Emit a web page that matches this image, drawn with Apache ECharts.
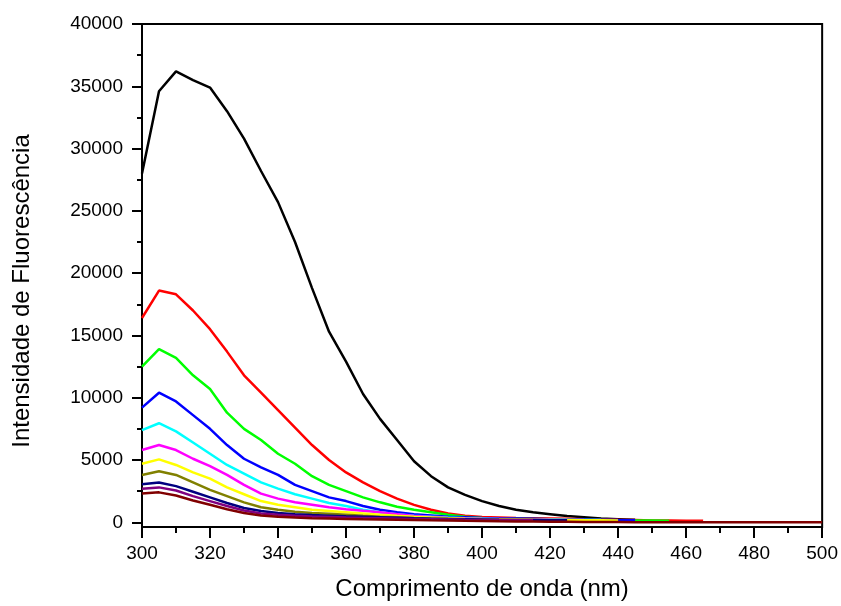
<!DOCTYPE html>
<html>
<head>
<meta charset="utf-8">
<script src="https://cdn.jsdelivr.net/npm/echarts@6/dist/echarts.min.js"></script>
<style>html,body{margin:0;padding:0;background:#fff}#c{width:841px;height:606px}</style>
</head>
<body>
<div id="c"></div>
<script>
// Wavelength grid (nm), 5 nm steps
const wavelengths = [300,305,310,315,320,325,330,335,340,345,350,355,360,365,370,375,380,385,390,395,400,405,410,415,420,425,430,435,440,445,450,455,460,465,470,475,480,485,490,495,500];

const xTicks = [300,320,340,360,380,400,420,440,460,480,500];
const yTickLabels = [0,5000,10000,15000,20000,25000,30000,35000,40000];
const yMinorTicks = [2500,7500,12500,17500,22500,27500,32500,37500];

const seriesColors = ['#000000','#ff0000','#00ff00','#0000ff','#00ffff','#ff00ff','#ffff00','#808000','#000080','#800080','#800000'];

const sBlack  = [28000,34600,36200,35500,34900,33000,30800,28200,25700,22500,18800,15300,12900,10300,8300,6600,4900,3700,2800,2200,1700,1300,1000,800,650,500,400,300,250,200];
const sRed    = [16400,18600,18300,17000,15500,13700,11800,10400,9000,7600,6200,5000,4000,3200,2500,1900,1400,1000,700,530,420,380,340,320,300,280,250,230,200,180,150,140,130,120];
const sGreen  = [12500,13900,13200,11800,10700,8800,7500,6600,5500,4700,3700,3000,2500,2000,1600,1250,1000,800,600,450,350,300,280,260,240,220,200,180,160,150,140,130];
const sBlue   = [9200,10400,9700,8600,7500,6200,5100,4400,3800,3000,2500,2000,1700,1300,1000,800,650,550,450,400,350,320,300,280,250,230,220,200,180,170];
const sCyan   = [7400,7950,7300,6400,5500,4600,3900,3200,2700,2250,1900,1550,1300,1000,800,650,520,450,380,330,300,270,250,230,220,200,190,180];
const sMagenta= [5800,6200,5800,5100,4500,3800,3000,2300,1900,1600,1400,1200,1050,920,800,650,500,420,350,310,280,260,240,220,200,190,180];
const sYellow = [4700,5050,4600,4000,3500,2800,2250,1700,1400,1200,1000,900,800,700,600,520,450,390,330,290,260,240,220,200,190,180,170,160,150];
const sOlive  = [3800,4100,3800,3200,2600,2100,1600,1200,1000,850,750,680,600,520,450,400,350,310,280,250,220,200,190,180,170];
const sNavy   = [3050,3200,2900,2450,2000,1550,1150,900,750,650,580,530,480,440,400,360,320,290,260,240,220,200,190,180,170,160];
const sPurple = [2700,2800,2550,2100,1700,1300,950,700,600,520,460,420,380,350,320,290,260,240,220,200,190,180,170,160];
const sWine   = [2300,2400,2150,1750,1400,1050,750,550,450,380,330,300,270,240,220,200,180,160,150,120,100,80,70,60,50,40,30,20,20,10,0,0,0,0,0,0,0,0,0,0,0];

const allSeries = [sBlack,sRed,sGreen,sBlue,sCyan,sMagenta,sYellow,sOlive,sNavy,sPurple,sWine];

const FONT = 'Arial, "Liberation Sans", sans-serif';

const chart = echarts.init(document.getElementById('c'), null, {renderer:'canvas'});
chart.setOption({
  animation: false,
  backgroundColor: '#fff',
  grid: {left:142, top:24, right:18, bottom:79, show:true, borderColor:'#000', borderWidth:2, backgroundColor:'transparent'},
  xAxis: {
    type:'value', min:300, max:500, interval:20,
    name:'Comprimento de onda (nm)', nameLocation:'middle', nameGap:50,
    nameTextStyle:{fontFamily:FONT, fontSize:24, color:'#000'},
    axisLine:{onZero:false, lineStyle:{color:'#000', width:2}},
    axisTick:{show:true, length:11, lineStyle:{color:'#000', width:2}, customValues: xTicks},
    minorTick:{show:true, splitNumber:2, length:6, lineStyle:{color:'#000', width:2}},
    axisLabel:{fontFamily:FONT, fontSize:19, color:'#000', margin:17, customValues: xTicks, showMinLabel:true, showMaxLabel:true, formatter: v => String(v)},
    splitLine:{show:false}
  },
  yAxis: [{
    type:'value', min:-380, max:40000,
    axisLine:{onZero:false, lineStyle:{color:'#000', width:2}},
    axisTick:{show:true, length:10, lineStyle:{color:'#000', width:2}, customValues: yTickLabels},
    axisLabel:{fontFamily:FONT, fontSize:19, color:'#000', margin:19, customValues: yTickLabels, formatter: v => String(v)},
    splitLine:{show:false}
  },{
    type:'value', min:-380, max:40000, position:'left', offset:0,
    axisLine:{show:false, onZero:false},
    axisTick:{show:true, length:5, lineStyle:{color:'#000', width:2}, customValues: yMinorTicks},
    axisLabel:{show:false},
    splitLine:{show:false}
  }],
  graphic: [{
    type:'text', x:22, y:291, rotation:Math.PI/2,
    style:{text:'Intensidade de Fluorescência', fontFamily:FONT, fontSize:24, fill:'#000', align:'center', verticalAlign:'middle'}
  }],
  series: allSeries.map((vals, i) => ({
    type:'line',
    showSymbol:false,
    symbol:'none',
    color: seriesColors[i],
    lineStyle:{width:2.5, color: seriesColors[i]},
    data: vals.map((v, j) => [wavelengths[j], v]),
    z: 2 + i
  }))
});
</script>
</body>
</html>
